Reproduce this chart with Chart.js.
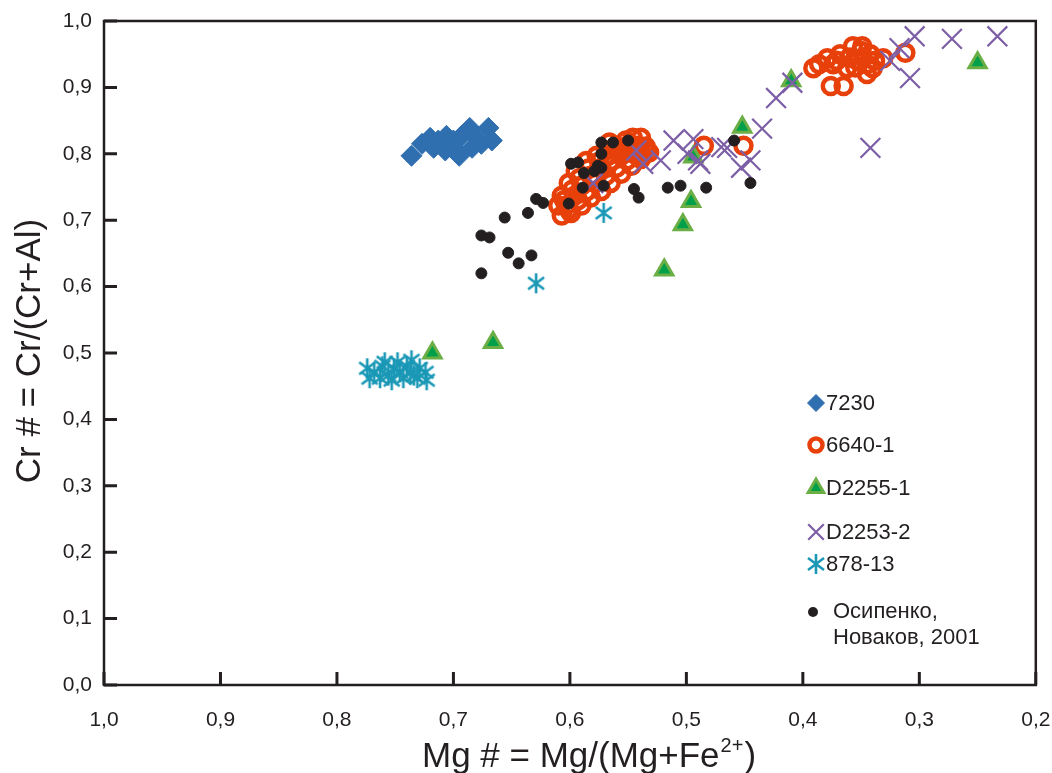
<!DOCTYPE html>
<html>
<head>
<meta charset="utf-8">
<script src="https://cdn.jsdelivr.net/npm/chart.js@4.4.1/dist/chart.umd.min.js"></script>
<style>
  html, body { margin: 0; padding: 0; background: #fff; }
</style>
</head>
<body>
<canvas id="diagramme" width="1052" height="773"></canvas>
<script>
// axes
var xTicks = [1.0, 0.9, 0.8, 0.7, 0.6, 0.5, 0.4, 0.3, 0.2];
var yTicks = [0.0, 0.1, 0.2, 0.3, 0.4, 0.5, 0.6, 0.7, 0.8, 0.9, 1.0];

// séries : [Mg#, Cr#]
var s7230 = [
  [0.736, 0.797], [0.727, 0.815], [0.720, 0.824], [0.713, 0.820], [0.706, 0.827],
  [0.700, 0.820], [0.693, 0.827], [0.686, 0.839], [0.680, 0.824], [0.670, 0.839],
  [0.667, 0.820], [0.707, 0.805], [0.695, 0.797], [0.684, 0.809], [0.676, 0.815],
  [0.717, 0.809], [0.699, 0.808]
];
var s6640 = [
  [0.607, 0.737], [0.601, 0.756], [0.595, 0.774], [0.586, 0.789], [0.577, 0.797],
  [0.569, 0.805], [0.560, 0.809], [0.552, 0.811], [0.543, 0.812], [0.535, 0.811],
  [0.605, 0.730], [0.598, 0.746], [0.592, 0.763], [0.584, 0.778], [0.575, 0.788],
  [0.567, 0.797], [0.558, 0.803], [0.549, 0.806], [0.541, 0.808],
  [0.603, 0.722], [0.596, 0.737], [0.590, 0.752], [0.582, 0.767], [0.573, 0.779],
  [0.565, 0.789], [0.556, 0.797], [0.547, 0.802], [0.539, 0.805],
  [0.601, 0.716], [0.593, 0.730], [0.586, 0.743], [0.578, 0.756], [0.569, 0.767],
  [0.560, 0.779], [0.551, 0.790], [0.543, 0.798], [0.535, 0.806],
  [0.599, 0.711], [0.590, 0.722], [0.582, 0.734], [0.573, 0.744], [0.565, 0.756],
  [0.556, 0.770], [0.547, 0.782], [0.539, 0.792], [0.532, 0.802],
  [0.552, 0.820], [0.546, 0.824], [0.539, 0.824], [0.566, 0.817], [0.610, 0.722],
  [0.607, 0.707],
  [0.485, 0.812], [0.451, 0.812],
  [0.391, 0.929], [0.376, 0.902], [0.365, 0.902], [0.379, 0.944], [0.368, 0.950],
  [0.357, 0.962], [0.349, 0.962], [0.342, 0.950], [0.353, 0.940], [0.340, 0.929],
  [0.345, 0.920], [0.331, 0.944], [0.312, 0.952], [0.362, 0.929], [0.374, 0.935],
  [0.386, 0.935], [0.371, 0.940], [0.360, 0.945], [0.350, 0.955], [0.338, 0.940],
  [0.355, 0.930], [0.345, 0.935]
];
var sD2255 = [
  [0.718, 0.500], [0.666, 0.516], [0.519, 0.625], [0.503, 0.693], [0.496, 0.728],
  [0.494, 0.795], [0.452, 0.840], [0.410, 0.910], [0.250, 0.937]
];
var sD2253 = [
  [0.233, 0.977], [0.272, 0.973], [0.304, 0.977], [0.317, 0.959], [0.325, 0.940],
  [0.308, 0.914], [0.342, 0.809], [0.409, 0.907], [0.423, 0.884], [0.435, 0.838],
  [0.445, 0.790], [0.453, 0.779], [0.470, 0.810], [0.543, 0.805], [0.537, 0.785],
  [0.522, 0.790], [0.511, 0.820], [0.494, 0.822], [0.499, 0.800], [0.490, 0.790],
  [0.465, 0.809], [0.580, 0.756], [0.488, 0.785]
];
var s878 = [
  [0.629, 0.605], [0.571, 0.711],
  [0.774, 0.477], [0.768, 0.471], [0.761, 0.480], [0.756, 0.466], [0.751, 0.477],
  [0.746, 0.471], [0.740, 0.480], [0.736, 0.489], [0.734, 0.466], [0.729, 0.477],
  [0.724, 0.471], [0.772, 0.462], [0.763, 0.462], [0.753, 0.459], [0.743, 0.462],
  [0.731, 0.462], [0.723, 0.459], [0.748, 0.486], [0.759, 0.486], [0.737, 0.471]
];
var sOsipenko = [
  [0.676, 0.620], [0.656, 0.704], [0.676, 0.677], [0.669, 0.674], [0.653, 0.651],
  [0.644, 0.635], [0.633, 0.647], [0.636, 0.711], [0.629, 0.732], [0.623, 0.726],
  [0.601, 0.725], [0.589, 0.749], [0.571, 0.752], [0.545, 0.747], [0.541, 0.734],
  [0.516, 0.749], [0.505, 0.752], [0.483, 0.749], [0.445, 0.756], [0.459, 0.820],
  [0.550, 0.820], [0.573, 0.817], [0.563, 0.817], [0.573, 0.800], [0.599, 0.785],
  [0.593, 0.787], [0.588, 0.771], [0.579, 0.774], [0.576, 0.782], [0.573, 0.779]
];

function pts(arr) { return arr.map(function (p) { return { x: p[0], y: p[1] }; }); }
function virgule(v) { return v.toFixed(1).replace('.', ','); }

var noir = '#231f20';
Chart.defaults.font.family = '"Liberation Sans", Arial, sans-serif';

// astérisque (ж)
var asterisque = document.createElement('canvas');
asterisque.width = 22; asterisque.height = 22;
(function () {
  var c = asterisque.getContext('2d');
  c.strokeStyle = '#1a98b6';
  c.lineWidth = 2.6;
  c.beginPath();
  c.moveTo(11, 1); c.lineTo(11, 21);
  c.moveTo(3, 5); c.lineTo(19, 17);
  c.moveTo(19, 5); c.lineTo(3, 17);
  c.stroke();
})();

var styles = {
  osip:  { pointStyle: 'circle', radius: 5.5, backgroundColor: noir, borderColor: noir, borderWidth: 1 },
  s878:  { pointStyle: asterisque, radius: 10, backgroundColor: '#1a98b6', borderColor: '#1a98b6', borderWidth: 0 },
  d2253: { pointStyle: 'crossRot', radius: 14, backgroundColor: '#7d5fa6', borderColor: '#7d5fa6', borderWidth: 2.2 },
  d2255: { pointStyle: 'triangle', radius: 10, backgroundColor: '#00a04b', borderColor: '#6aae45', borderWidth: 3 },
  s7230: { pointStyle: 'rectRot', radius: 10.5, backgroundColor: '#2f6fb0', borderColor: '#2f6fb0', borderWidth: 1 },
  s6640: { pointStyle: 'circle', radius: 8, backgroundColor: 'rgba(0,0,0,0)', borderColor: '#e8400a', borderWidth: 4.5 }
};

function ds(label, arr, st) {
  return {
    label: label, data: pts(arr), showLine: false,
    pointStyle: st.pointStyle, pointRadius: st.radius, pointHoverRadius: st.radius,
    backgroundColor: st.backgroundColor, borderColor: st.borderColor,
    pointBorderWidth: st.borderWidth, borderWidth: st.borderWidth
  };
}

// cadre, graduations, titres et légende
var decor = {
  id: 'decor',
  beforeDatasetsDraw: function (chart) {
    var ctx = chart.ctx, a = chart.chartArea;
    var sx = chart.scales.x, sy = chart.scales.y;
    ctx.save();
    ctx.strokeStyle = noir;
    ctx.lineWidth = 2.5;
    ctx.strokeRect(a.left, a.top, a.right - a.left, a.bottom - a.top);
    ctx.lineWidth = 3;
    ctx.beginPath();
    xTicks.forEach(function (v) {
      var px = sx.getPixelForValue(v);
      ctx.moveTo(px, a.bottom); ctx.lineTo(px, a.bottom - 13);
    });
    yTicks.forEach(function (v) {
      var py = sy.getPixelForValue(v);
      ctx.moveTo(a.left, py); ctx.lineTo(a.left + 13, py);
    });
    ctx.stroke();
    ctx.restore();
  },
  afterDraw: function (chart) {
    var ctx = chart.ctx, a = chart.chartArea;
    ctx.save();
    ctx.fillStyle = noir;
    // titre Y
    ctx.font = '35px "Liberation Sans", Arial, sans-serif';
    ctx.translate(30, (a.top + a.bottom) / 2 - 2);
    ctx.rotate(-Math.PI / 2);
    ctx.textAlign = 'center';
    ctx.textBaseline = 'middle';
    ctx.fillText('Cr # = Cr/(Cr+Al)', 0, 0);
    ctx.setTransform(1, 0, 0, 1, 0, 0);
    // titre X avec exposant
    var t1 = 'Mg # = Mg/(Mg+Fe', sup = '2+', t2 = ')';
    var big = '35px "Liberation Sans", Arial, sans-serif', small = '20px "Liberation Sans", Arial, sans-serif';
    ctx.textAlign = 'left';
    ctx.textBaseline = 'alphabetic';
    ctx.font = big; var w1 = ctx.measureText(t1).width, w3 = ctx.measureText(t2).width;
    ctx.font = small; var w2 = ctx.measureText(sup).width;
    var x0 = 588 - (w1 + w2 + w3) / 2, base = 767;
    ctx.font = big; ctx.fillText(t1, x0, base);
    ctx.font = small; ctx.fillText(sup, x0 + w1 + 1, base - 15);
    ctx.font = big; ctx.fillText(t2, x0 + w1 + w2 + 2, base);
    // légende
    var entrees = [
      { st: styles.s7230, txt: '7230', y: 403, r: 8.5 },
      { st: styles.s6640, txt: '6640-1', y: 445, r: 6.5 },
      { st: styles.d2255, txt: 'D2255-1', y: 488, r: 9 },
      { st: styles.d2253, txt: 'D2253-2', y: 532, r: 11 },
      { st: styles.s878, txt: '878-13', y: 564, r: 10 }
    ];
    ctx.font = '22px "Liberation Sans", Arial, sans-serif';
    ctx.textBaseline = 'middle';
    entrees.forEach(function (e) {
      ctx.fillStyle = e.st.backgroundColor;
      ctx.strokeStyle = e.st.borderColor;
      ctx.lineWidth = e.st.borderWidth;
      Chart.helpers.drawPoint(ctx, { pointStyle: e.st.pointStyle, radius: e.r, rotation: 0, borderWidth: e.st.borderWidth }, 816, e.y);
      ctx.fillStyle = noir;
      ctx.fillText(e.txt, 826, e.y + 1);
    });
    ctx.fillStyle = noir;
    ctx.beginPath(); ctx.arc(813, 612, 5, 0, Math.PI * 2); ctx.fill();
    ctx.fillText('Осипенко,', 833, 612);
    ctx.fillText('Новаков, 2001', 833, 638);
    ctx.restore();
  }
};

var graf = new Chart(document.getElementById('diagramme'), {
  type: 'scatter',
  data: {
    datasets: [
      ds('Осипенко, Новаков, 2001', sOsipenko, styles.osip),
      ds('878-13', s878, styles.s878),
      ds('D2253-2', sD2253, styles.d2253),
      ds('D2255-1', sD2255, styles.d2255),
      ds('7230', s7230, styles.s7230),
      ds('6640-1', s6640, styles.s6640)
    ]
  },
  options: {
    responsive: false,
    animation: false,
    layout: { padding: { top: 21, right: 15, left: 0, bottom: 0 } },
    plugins: { legend: { display: false }, tooltip: { enabled: false } },
    scales: {
      x: {
        type: 'linear', reverse: true, min: 0.2, max: 1.0,
        grid: { display: false, drawTicks: false },
        border: { display: false },
        afterBuildTicks: function (s) { s.ticks = xTicks.map(function (v) { return { value: v }; }); },
        afterFit: function (s) { s.height = 88; s.paddingLeft = 0; s.paddingRight = 0; },
        ticks: { callback: virgule, color: noir, font: { size: 21 }, padding: 23, maxRotation: 0, autoSkip: false }
      },
      y: {
        type: 'linear', min: 0, max: 1.0,
        grid: { display: false, drawTicks: false },
        border: { display: false },
        afterBuildTicks: function (s) { s.ticks = yTicks.map(function (v) { return { value: v }; }); },
        afterFit: function (s) { s.width = 104; s.paddingTop = 0; s.paddingBottom = 0; },
        ticks: { callback: virgule, color: noir, font: { size: 21 }, padding: 12, autoSkip: false }
      }
    }
  },
  plugins: [decor]
});
</script>
</body>
</html>
